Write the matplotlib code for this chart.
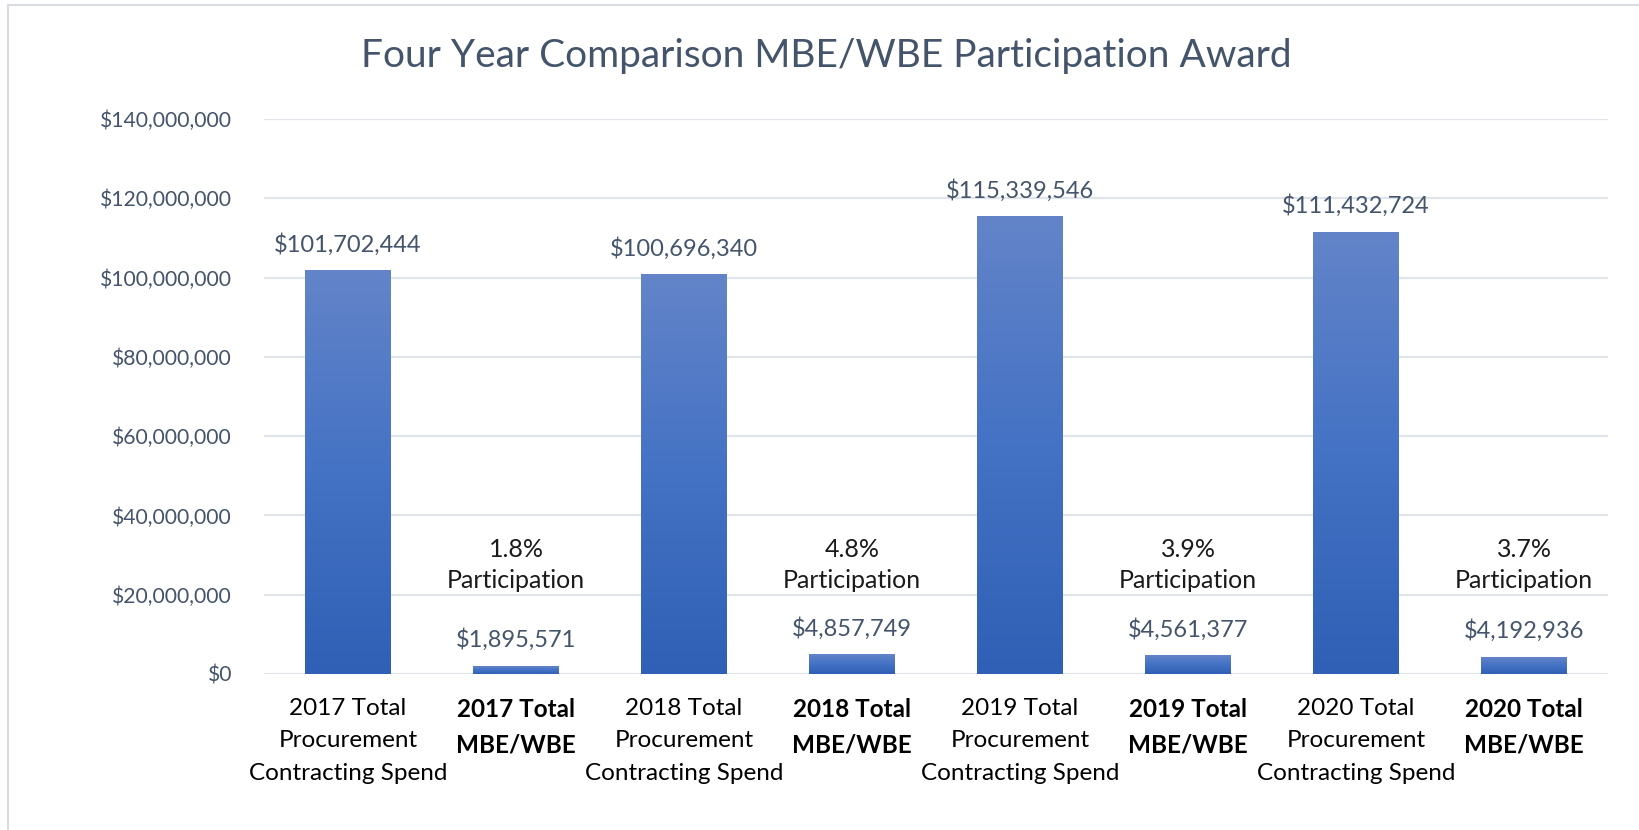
import matplotlib.pyplot as plt
import numpy as np
from matplotlib.colors import LinearSegmentedColormap
from matplotlib.lines import Line2D
from matplotlib.ticker import FuncFormatter

plt.rcParams['font.family'] = ['Lato', 'DejaVu Sans']

categories = ['2017 Total\nProcurement\nContracting Spend', '2017 Total\nMBE/WBE',
              '2018 Total\nProcurement\nContracting Spend', '2018 Total\nMBE/WBE',
              '2019 Total\nProcurement\nContracting Spend', '2019 Total\nMBE/WBE',
              '2020 Total\nProcurement\nContracting Spend', '2020 Total\nMBE/WBE']
values = [101702444, 1895571, 100696340, 4857749, 115339546, 4561377, 111432724, 4192936]
bold_cat = [False, True, False, True, False, True, False, True]
pct_labels = ['1.8%', '4.8%', '3.9%', '3.7%']
pct_pos = [1, 3, 5, 7]

txt_col = '#44546a'
grid_col = '#e1e4ea'

fig = plt.figure(figsize=(16.4, 8.3), dpi=100)
ax = fig.add_axes([0.161, 0.188, 0.8195, 0.6686])

cmap = LinearSegmentedColormap.from_list('bar', ['#2f60b5', '#4472c4', '#6384c9'])
grad = np.linspace(0, 1, 256).reshape(-1, 1)

x = np.arange(len(values))
w = 0.51
for xi, v in zip(x, values):
    ax.imshow(grad, extent=(xi - w/2, xi + w/2, 0, v), origin='lower',
              aspect='auto', cmap=cmap, zorder=2)
    ax.annotate(f'${v:,.0f}', (xi, v), xytext=(0, 11), textcoords='offset points',
                ha='center', va='bottom', fontsize=17, color=txt_col)

for p, t in zip(pct_pos, pct_labels):
    ax.text(p, 27.5e6, t + '\nParticipation', ha='center', va='center',
            fontsize=18, color='#1a1a1a', linespacing=1.45)

ax.set_xlim(-0.5, len(values) - 0.5)
ax.set_ylim(0, 140e6)
ax.set_yticks(np.arange(0, 140e6 + 1, 20e6))
ax.yaxis.set_major_formatter(FuncFormatter(lambda v, p: f'${v:,.0f}'))
ax.grid(axis='y', color=grid_col, linewidth=1.6, zorder=0)
ax.set_axisbelow(True)
for s in ax.spines.values():
    s.set_visible(False)
ax.tick_params(axis='y', length=0, pad=23, labelsize=15.2, labelcolor=txt_col)
ax.tick_params(axis='x', length=0, pad=17)

ax.set_xticks(x)
ax.set_xticklabels(categories, fontsize=17.5, color='black', linespacing=1.68, va='top')
for lbl, b in zip(ax.get_xticklabels(), bold_cat):
    if b:
        lbl.set_fontweight('bold')

fig.text(0.504, 0.933, 'Four Year Comparison MBE/WBE Participation Award',
         ha='center', va='center', fontsize=28, color=txt_col)

# thin frame around the chart area
fig.add_artist(Line2D([8/1640, 1], [1 - 5/830, 1 - 5/830], color='#d9dde3', lw=1.5))
fig.add_artist(Line2D([8/1640, 8/1640], [0, 1 - 5/830], color='#d9dde3', lw=1.5))

plt.savefig('out.png', dpi=100)
